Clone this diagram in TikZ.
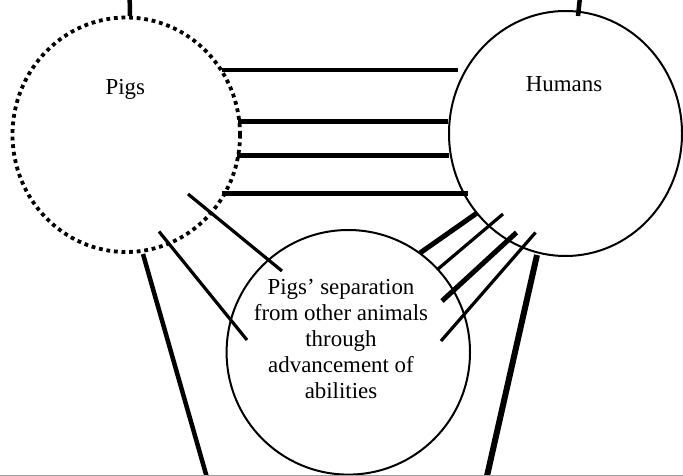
\documentclass[tikz,border=0pt]{standalone}
\usepackage{fontspec}
\setmainfont{Liberation Serif}
\usetikzlibrary{shapes.geometric}
\begin{document}
\begin{tikzpicture}[x=1pt,y=-1pt,
  ring/.style={ellipse,draw,line width=2pt,inner sep=0pt},
  dotring/.style={ellipse,draw,line width=3.8pt,dash pattern=on 3.8pt off 3.8pt,inner sep=0pt},
  label/.style={font=\fontsize{22.9pt}{26pt}\selectfont,inner sep=0pt},
  thick link/.style={line width=4.5pt},
  thin link/.style={line width=3.2pt},
  heavy link/.style={line width=6pt}]
\useasboundingbox (0,0) rectangle (683,476);

% the three groups
\node[dotring,minimum width=227.5pt,minimum height=234.5pt] (pigs) at (126.25,134.75) {};
\node[ring,minimum width=233pt,minimum height=245pt] (humans) at (565.5,133.5) {};
\node[ring,minimum width=243.4pt,minimum height=244.6pt] (sep) at (348.3,352.3) {};

\node[label,anchor=base] (pigstext) at (125.3,95) {Pigs};
\node[label,anchor=base] (humanstext) at (564,92) {Humans};
\node[label,align=center] (septext) at (341,338.5)
  {Pigs’ separation\\from other animals\\through\\advancement of\\abilities};

% end points of the bars
\coordinate (pt0) at (129.7,0);   \coordinate (pt1) at (130,16);
\coordinate (ht0) at (579.7,0);   \coordinate (ht1) at (578,16);
\coordinate (h1a) at (222,70);    \coordinate (h1b) at (458,70);
\coordinate (h2a) at (238,121.5); \coordinate (h2b) at (448,121.5);
\coordinate (h3a) at (237,155.5); \coordinate (h3b) at (449,155.5);
\coordinate (h4a) at (222,193.5); \coordinate (h4b) at (468,193.5);
\coordinate (pa0) at (188,194);   \coordinate (pa1) at (282,271);
\coordinate (pb0) at (159,231.5); \coordinate (pb1) at (247,340);
\coordinate (pl0) at (143,254);   \coordinate (pl1) at (206.5,476);
\coordinate (hr0) at (537,255);   \coordinate (hr1) at (487,476);
\coordinate (s10) at (420,253);   \coordinate (s11) at (477,213);
\coordinate (s20) at (438,269);   \coordinate (s21) at (503,214);
\coordinate (s30) at (442,301);   \coordinate (s31) at (516.5,232.5);
\coordinate (s40) at (441,341);   \coordinate (s41) at (535.5,232.5);

% bars
\draw[thick link] (pt0) -- (pt1);
\draw[thick link] (ht0) -- (ht1);
\draw[thick link] (h1a) -- (h1b);
\draw[thick link] (h2a) -- (h2b);
\draw[thick link] (h3a) -- (h3b);
\draw[thick link] (h4a) -- (h4b);
\draw[thin link] (pa0) -- (pa1);
\draw[thin link] (pb0) -- (pb1);
\draw[thick link] (pl0) -- (pl1);
\draw[heavy link] (hr0) -- (hr1);
\draw[line width=5pt] (s10) -- (s11);
\draw[thin link] (s20) -- (s21);
\draw[line width=5pt] (s30) -- (s31);
\draw[thin link] (s40) -- (s41);

% base rule
\coordinate (b0) at (0,475.5); \coordinate (b1) at (683,475.5);
\draw[line width=1pt,black!38] (b0) -- (b1);
\end{tikzpicture}
\end{document}
